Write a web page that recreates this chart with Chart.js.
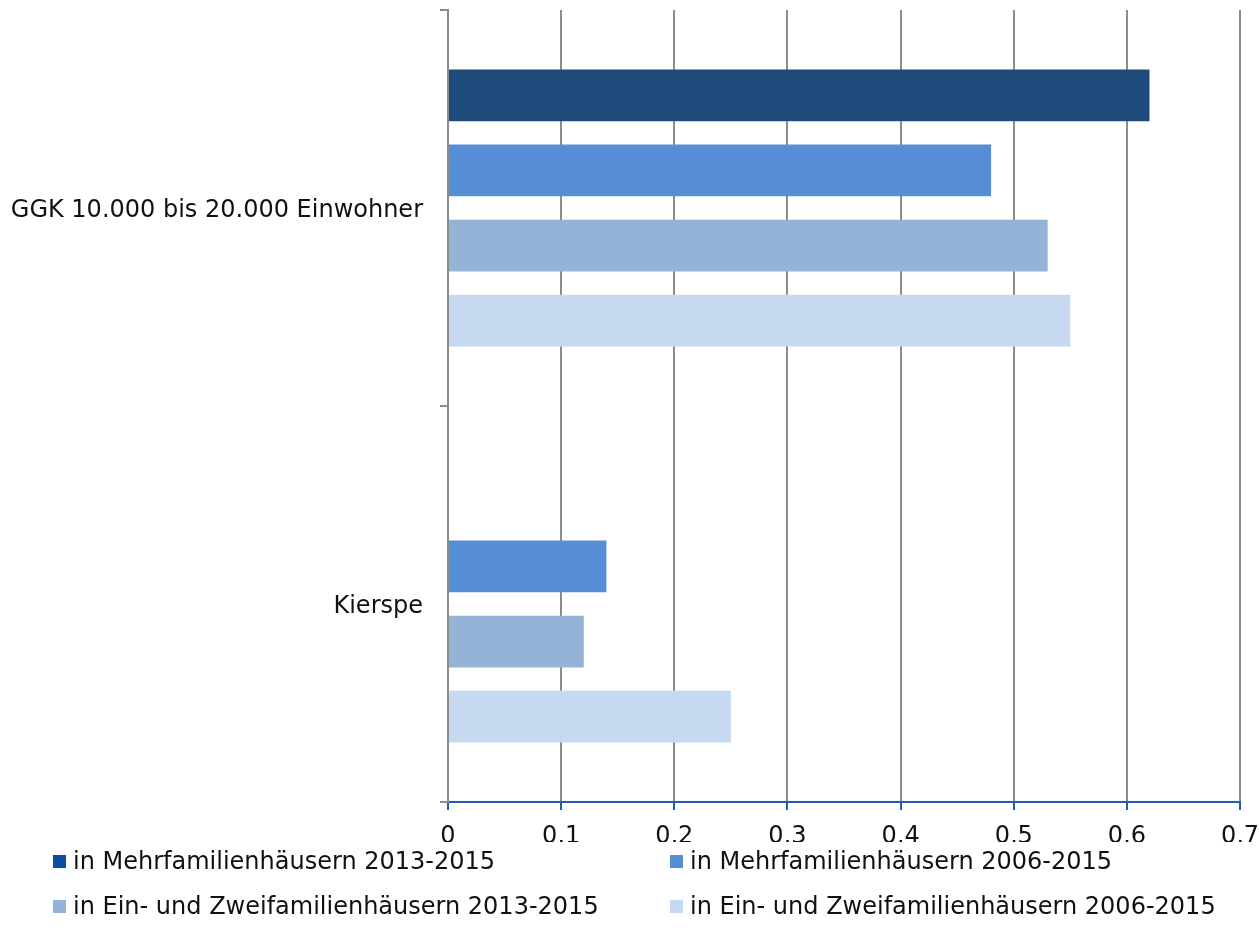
<!DOCTYPE html>
<html>
<head>
<meta charset="utf-8">
<script src="https://cdn.jsdelivr.net/npm/chart.js@4.4.0/dist/chart.umd.min.js"></script>
<style>
  html, body { margin:0; padding:0; background:#fff; }
  #wrap { position:relative; width:1259px; height:946px; }
  canvas { position:absolute; left:0; top:0; }
  #legend { position:absolute; left:0; top:0; width:1259px; height:946px; pointer-events:none;
            font-family:"DejaVu Sans", sans-serif; font-size:24px; color:#111; }
  .li { position:absolute; white-space:nowrap; line-height:26px; }
  .sw { display:inline-block; width:13px; height:13px; margin-right:7px; vertical-align:1px; }
</style>
</head>
<body>
<div id="wrap">
  <canvas id="c" width="1259" height="946"></canvas>
  <div id="legend"></div>
</div>
<script>
const categories = ["GGK 10.000 bis 20.000 Einwohner", "Kierspe"];
const seriesNames = [
  "in Mehrfamilienhäusern 2013-2015",
  "in Mehrfamilienhäusern 2006-2015",
  "in Ein- und Zweifamilienhäusern 2013-2015",
  "in Ein- und Zweifamilienhäusern 2006-2015"
];
const mfh2013 = [0.62, null];
const mfh2006 = [0.48, 0.14];
const ezfh2013 = [0.53, 0.12];
const ezfh2006 = [0.55, 0.25];
const xTicks = [0, 0.1, 0.2, 0.3, 0.4, 0.5, 0.6, 0.7];
const xTickLabels = ["0", "0,1", "0,2", "0,3", "0,4", "0,5", "0,6", "0,7"];

const barColors = ["#1F4A7C", "#558ED5", "#95B3D7", "#C6D9F1"];
const legendColors = ["#0B4DA2", "#558ED5", "#95B3D7", "#C6D9F1"];
const values = [mfh2013, mfh2006, ezfh2013, ezfh2006];

const FONT = '"DejaVu Sans", sans-serif';

new Chart(document.getElementById('c'), {
  type: 'bar',
  data: {
    labels: categories,
    datasets: seriesNames.map((n, i) => ({
      label: n,
      data: values[i],
      backgroundColor: barColors[i],
      borderWidth: 0,
      categoryPercentage: 0.758,
      barPercentage: 0.69
    }))
  },
  options: {
    indexAxis: 'y',
    responsive: false,
    animation: false,
    devicePixelRatio: 1,
    layout: { padding: { top: 10, right: 19, bottom: 104, left: 0 } },
    plugins: { legend: { display: false }, tooltip: { enabled: false } },
    scales: {
      x: {
        min: 0, max: 0.7,
        afterBuildTicks: s => { s.ticks = xTicks.map(v => ({ value: v })); },
        afterFit: s => { s.height = 40; s.paddingLeft = 0; s.paddingRight = 0; },
        border: { color: '#1F5FB3', width: 2 },
        grid: { color: '#8C8C8C', lineWidth: 2, tickColor: '#1F5FB3', tickLength: 8 },
        ticks: {
          font: { family: FONT, size: 24 }, color: '#111', padding: 12,
          callback: (v, i) => xTickLabels[i]
        }
      },
      y: {
        afterFit: s => { s.width = 448; s.paddingTop = 0; s.paddingBottom = 0; },
        border: { color: '#8C8C8C', width: 2 },
        grid: { drawOnChartArea: false, color: '#8C8C8C', lineWidth: 2, tickLength: 8, offset: true },
        ticks: { font: { family: FONT, size: 24 }, color: '#111', padding: 17, labelOffset: 3 }
      }
    }
  }
});

// HTML legend (two columns, two rows)
const legendPos = [[53, 848], [670, 848], [53, 893], [670, 893]];
const lg = document.getElementById('legend');
seriesNames.forEach((n, i) => {
  const d = document.createElement('div');
  d.className = 'li';
  d.style.left = legendPos[i][0] + 'px';
  d.style.top = legendPos[i][1] + 'px';
  const sw = document.createElement('span');
  sw.className = 'sw';
  sw.style.background = legendColors[i];
  d.appendChild(sw);
  d.appendChild(document.createTextNode(n));
  lg.appendChild(d);
});
</script>
</body>
</html>
